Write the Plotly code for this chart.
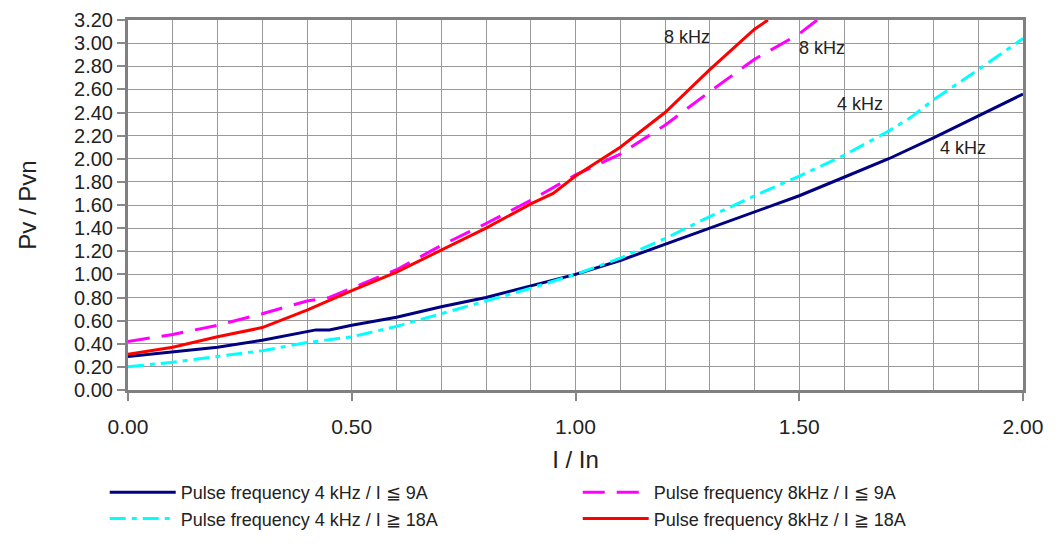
import plotly.graph_objects as go

# I / In  vs  Pv / Pvn
x_4k_9a = [0.0, 0.1, 0.2, 0.3, 0.4, 0.42, 0.45, 0.5, 0.6, 0.7, 0.8, 0.9, 1.0, 1.1, 1.2, 1.3, 1.4, 1.5, 1.6, 1.7, 1.8, 1.9, 2.0]
y_4k_9a = [0.29, 0.33, 0.37, 0.43, 0.50, 0.52, 0.52, 0.56, 0.63, 0.72, 0.80, 0.90, 1.00, 1.12, 1.26, 1.40, 1.54, 1.68, 1.84, 2.00, 2.18, 2.37, 2.56]

x_8k_9a = [0.0, 0.1, 0.2, 0.3, 0.4, 0.45, 0.5, 0.6, 0.7, 0.8, 0.9, 1.0, 1.1, 1.2, 1.3, 1.4, 1.5, 1.54]
y_8k_9a = [0.42, 0.48, 0.56, 0.66, 0.77, 0.80, 0.88, 1.04, 1.25, 1.44, 1.64, 1.86, 2.04, 2.29, 2.58, 2.86, 3.08, 3.20]

x_4k_18a = [0.0, 0.1, 0.2, 0.3, 0.4, 0.5, 0.6, 0.7, 0.8, 0.9, 1.0, 1.1, 1.2, 1.3, 1.4, 1.5, 1.6, 1.7, 1.75, 1.8, 1.9, 2.0]
y_4k_18a = [0.20, 0.24, 0.29, 0.34, 0.41, 0.46, 0.55, 0.66, 0.77, 0.88, 1.00, 1.14, 1.31, 1.50, 1.68, 1.85, 2.03, 2.24, 2.36, 2.51, 2.77, 3.04]

x_8k_18a = [0.0, 0.1, 0.2, 0.3, 0.4, 0.5, 0.6, 0.7, 0.8, 0.9, 0.95, 1.0, 1.1, 1.2, 1.3, 1.4, 1.43]
y_8k_18a = [0.31, 0.37, 0.46, 0.54, 0.69, 0.86, 1.02, 1.21, 1.40, 1.61, 1.70, 1.85, 2.10, 2.40, 2.77, 3.12, 3.20]

labels = ["8 kHz", "8 kHz", "4 kHz", "4 kHz"]
label_x = [1.25, 1.55, 1.636, 1.866]
label_y = [3.05, 2.96, 2.47, 2.09]

fig = go.Figure()
fig.add_trace(go.Scatter(x=x_4k_9a, y=y_4k_9a, mode="lines", name="Pulse frequency 4 kHz / I \u2266 9A",
                         line=dict(color="#000080", width=3)))
fig.add_trace(go.Scatter(x=x_8k_9a, y=y_8k_9a, mode="lines", name="Pulse frequency 8kHz / I \u2266 9A",
                         line=dict(color="#ff00ff", width=3, dash="22px,12px")))
fig.add_trace(go.Scatter(x=x_4k_18a, y=y_4k_18a, mode="lines", name="Pulse frequency 4 kHz / I \u2267 18A",
                         line=dict(color="#00ffff", width=3, dash="16px,6px,5px,6px")))
fig.add_trace(go.Scatter(x=x_8k_18a, y=y_8k_18a, mode="lines", name="Pulse frequency 8kHz / I \u2267 18A",
                         line=dict(color="#ff0000", width=3)))

for t, xx, yy in zip(labels, label_x, label_y):
    fig.add_annotation(x=xx, y=yy, text=t, showarrow=False, font=dict(size=18, color="#222"))

# page body has an 8px margin, so the figure is a bit smaller than the window
fig.update_layout(
    width=1043, height=531,
    margin=dict(l=120, r=28, t=12, b=149, autoexpand=False),
    plot_bgcolor="white", paper_bgcolor="white",
    font=dict(family="Liberation Sans, Arial", color="#222"),
    legend=dict(orientation="h", x=-0.026, xanchor="left", y=-0.227, yanchor="top",
                entrywidth=392, itemwidth=66, font=dict(size=18), tracegroupgap=0),
)
fig.update_xaxes(range=[0, 2], dtick=0.5, tickformat=".2f", showgrid=True, gridcolor="#999", gridwidth=1,
                 minor=dict(dtick=0.1, showgrid=True, gridcolor="#999", gridwidth=1),
                 ticks="outside", ticklen=8, tickcolor="#888", tickwidth=2,
                 showline=True, mirror=True, linecolor="#808080", linewidth=3,
                 tickfont=dict(size=21), ticklabelstandoff=8, automargin=False,
                 title=dict(text="I / In", font=dict(size=24), standoff=14), zeroline=False)
fig.update_yaxes(range=[0, 3.2], dtick=0.2, tickformat=".2f", showgrid=True, gridcolor="#999", gridwidth=1,
                 ticks="outside", ticklen=8, tickcolor="#888", tickwidth=2,
                 showline=True, mirror=True, linecolor="#808080", linewidth=3,
                 tickfont=dict(size=20), automargin=False, ticklabeloverflow="allow",
                 title=dict(text="Pv / Pvn", font=dict(size=24), standoff=31), zeroline=False)

fig.write_html("out.html")
